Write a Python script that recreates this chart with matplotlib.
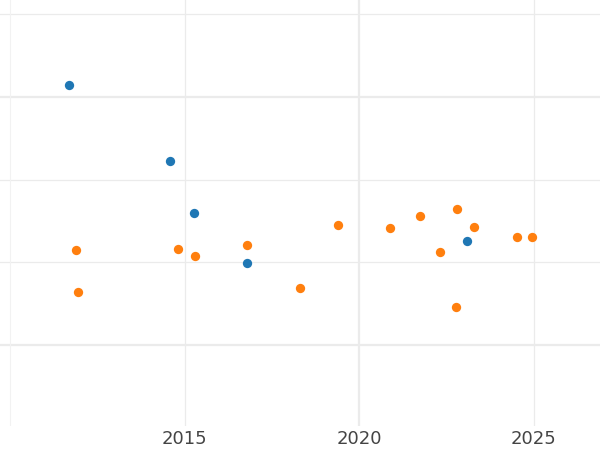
import matplotlib
matplotlib.use("Agg")
import matplotlib.pyplot as plt

# Data (year, value)
blue_x = [2011.69, 2014.58, 2015.27, 2016.79, 2023.09]
blue_y = [4.14, 3.22, 2.60, 1.99, 2.26]

orange_x = [2011.89, 2011.95, 2014.81, 2015.30, 2016.79, 2018.31, 2019.39,
            2020.88, 2021.76, 2022.81, 2023.30, 2022.31, 2022.78, 2024.54, 2024.96]
orange_y = [2.15, 1.64, 2.16, 2.08, 2.21, 1.69, 2.45,
            2.42, 2.56, 2.64, 2.43, 2.13, 1.46, 2.31, 2.31]

x_ticks = [2015, 2020, 2025]
x_tick_labels = ["2015", "2020", "2025"]

fig = plt.figure(figsize=(6, 4.5), dpi=100)
ax = fig.add_axes([0, 24 / 450, 1, 426 / 450])
ax.set_xlim(2009.713, 2026.905)
ax.set_ylim(0.02, 5.173)

grid_c = "#ebebeb"
for v, lw in [(1, 1.6), (4, 1.6), (2, 0.9), (3, 0.9), (5, 0.9)]:
    ax.axhline(v, color=grid_c, lw=lw, zorder=0)
for v, lw, c in [(2020, 1.6, grid_c), (2015, 0.9, grid_c), (2025, 0.9, grid_c), (2010, 0.8, "#f2f2f2")]:
    ax.axvline(v, color=c, lw=lw, zorder=0)

ax.scatter(blue_x, blue_y, s=45, color="#1f77b4", linewidths=0, zorder=3)
ax.scatter(orange_x, orange_y, s=45, color="#ff7f0e", linewidths=0, zorder=3)

ax.set_xticks(x_ticks)
ax.set_xticklabels(x_tick_labels)
ax.set_yticks([])
ax.tick_params(axis="x", length=0, pad=3, labelsize=13, labelcolor="#444444")
for s in ax.spines.values():
    s.set_visible(False)

fig.savefig("out.png", dpi=100)
